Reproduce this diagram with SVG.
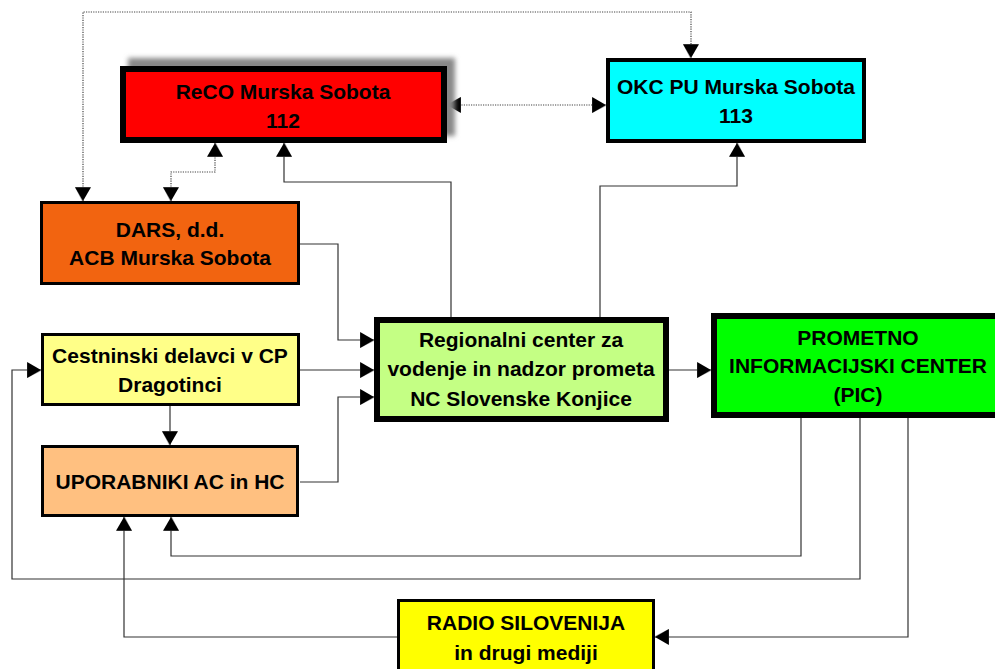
<svg xmlns="http://www.w3.org/2000/svg" width="995" height="669" viewBox="0 0 995 669">
<style>
.box{stroke:#000}
.t{font-family:"Liberation Sans",Arial,sans-serif;font-weight:bold;font-size:21px;text-anchor:middle;fill:#000}
.c{fill:none;stroke:#333;stroke-width:1.2}
.d{fill:none;stroke:#444;stroke-width:1.2;stroke-dasharray:1.2 1.2}
</style>
<defs>
<marker id="ah" markerUnits="userSpaceOnUse" markerWidth="16" markerHeight="16" viewBox="0 0 13 15" refX="13" refY="7.5" orient="auto-start-reverse">
<path d="M0,1 L13,8.5 L0,15 z" fill="#aaa"/>
<path d="M0,0 L13,7.5 L0,15 z" fill="#000"/>
</marker>
<filter id="blur" x="-10%" y="-30%" width="120%" height="160%"><feGaussianBlur stdDeviation="2.5"/></filter>
</defs>

<g id="connectors">
<path class="d" d="M83,201 V12 H691 V58" marker-start="url(#ah)" marker-end="url(#ah)"/>
<path class="d" d="M447,105 H606" marker-start="url(#ah)" marker-end="url(#ah)"/>
<path class="d" d="M171,201 V172 H215 V143" marker-start="url(#ah)" marker-end="url(#ah)"/>
<path class="c" d="M451,317 V182 H284 V143" marker-end="url(#ah)"/>
<path class="c" d="M600,317 V186 H737 V143" marker-end="url(#ah)"/>
<path class="c" d="M300,244 H338 V340 H374" marker-end="url(#ah)"/>
<path class="c" d="M300,370 H374" marker-end="url(#ah)"/>
<path class="c" d="M300,482 H338 V397 H374" marker-end="url(#ah)"/>
<path class="c" d="M669,370 H711" marker-end="url(#ah)"/>
<path class="c" d="M170,406 V445" marker-end="url(#ah)"/>
<path class="c" d="M801,418 V556 H171 V517" marker-end="url(#ah)"/>
<path class="c" d="M860,418 V579 H12 V370 H41" marker-end="url(#ah)"/>
<path class="c" d="M908,418 V637 H655" marker-end="url(#ah)"/>
<path class="c" d="M397,637 H124 V517" marker-end="url(#ah)"/>
</g>

<g id="reco">
<rect x="128" y="58" width="327" height="78" fill="#888" filter="url(#blur)"/>
<rect class="box" x="123" y="69" width="321" height="71" fill="#FF0000" stroke-width="6"/>
<text class="t" x="283" y="99">ReCO Murska Sobota</text>
<text class="t" x="283" y="128">112</text>
</g>

<g id="okc">
<rect class="box" x="608" y="60" width="256" height="81" fill="#00FFFF" stroke-width="4"/>
<text class="t" x="736" y="94">OKC PU Murska Sobota</text>
<text class="t" x="736" y="123">113</text>
</g>

<g id="dars">
<rect class="box" x="41.5" y="202.5" width="257" height="81" fill="#F26410" stroke-width="3"/>
<text class="t" x="170" y="237">DARS, d.d.</text>
<text class="t" x="170" y="265">ACB Murska Sobota</text>
</g>

<g id="cestninski">
<rect class="box" x="42.5" y="334.5" width="256" height="70" fill="#FFFF88" stroke-width="3"/>
<text class="t" x="170" y="363">Cestninski delavci v CP</text>
<text class="t" x="170" y="392">Dragotinci</text>
</g>

<g id="uporabniki">
<rect class="box" x="42.5" y="446.5" width="255" height="69" fill="#FFC080" stroke-width="3"/>
<text class="t" x="170" y="489">UPORABNIKI AC in HC</text>
</g>

<g id="regional">
<rect class="box" x="377" y="320" width="289" height="99" fill="#C4FF84" stroke-width="6"/>
<text class="t" x="521" y="347">Regionalni center za</text>
<text class="t" x="521" y="376">vodenje in nadzor prometa</text>
<text class="t" x="521" y="406">NC Slovenske Konjice</text>
</g>

<g id="pic">
<rect class="box" x="714" y="316" width="290" height="99" fill="#00FF00" stroke-width="6"/>
<text class="t" x="858" y="345">PROMETNO</text>
<text class="t" x="858" y="373">INFORMACIJSKI CENTER</text>
<text class="t" x="858" y="402">(PIC)</text>
</g>

<g id="radio">
<rect class="box" x="398.5" y="600.5" width="255" height="80" fill="#FFFF00" stroke-width="3"/>
<text class="t" x="526" y="630">RADIO SILOVENIJA</text>
<text class="t" x="526" y="660">in drugi mediji</text>
</g>
</svg>
